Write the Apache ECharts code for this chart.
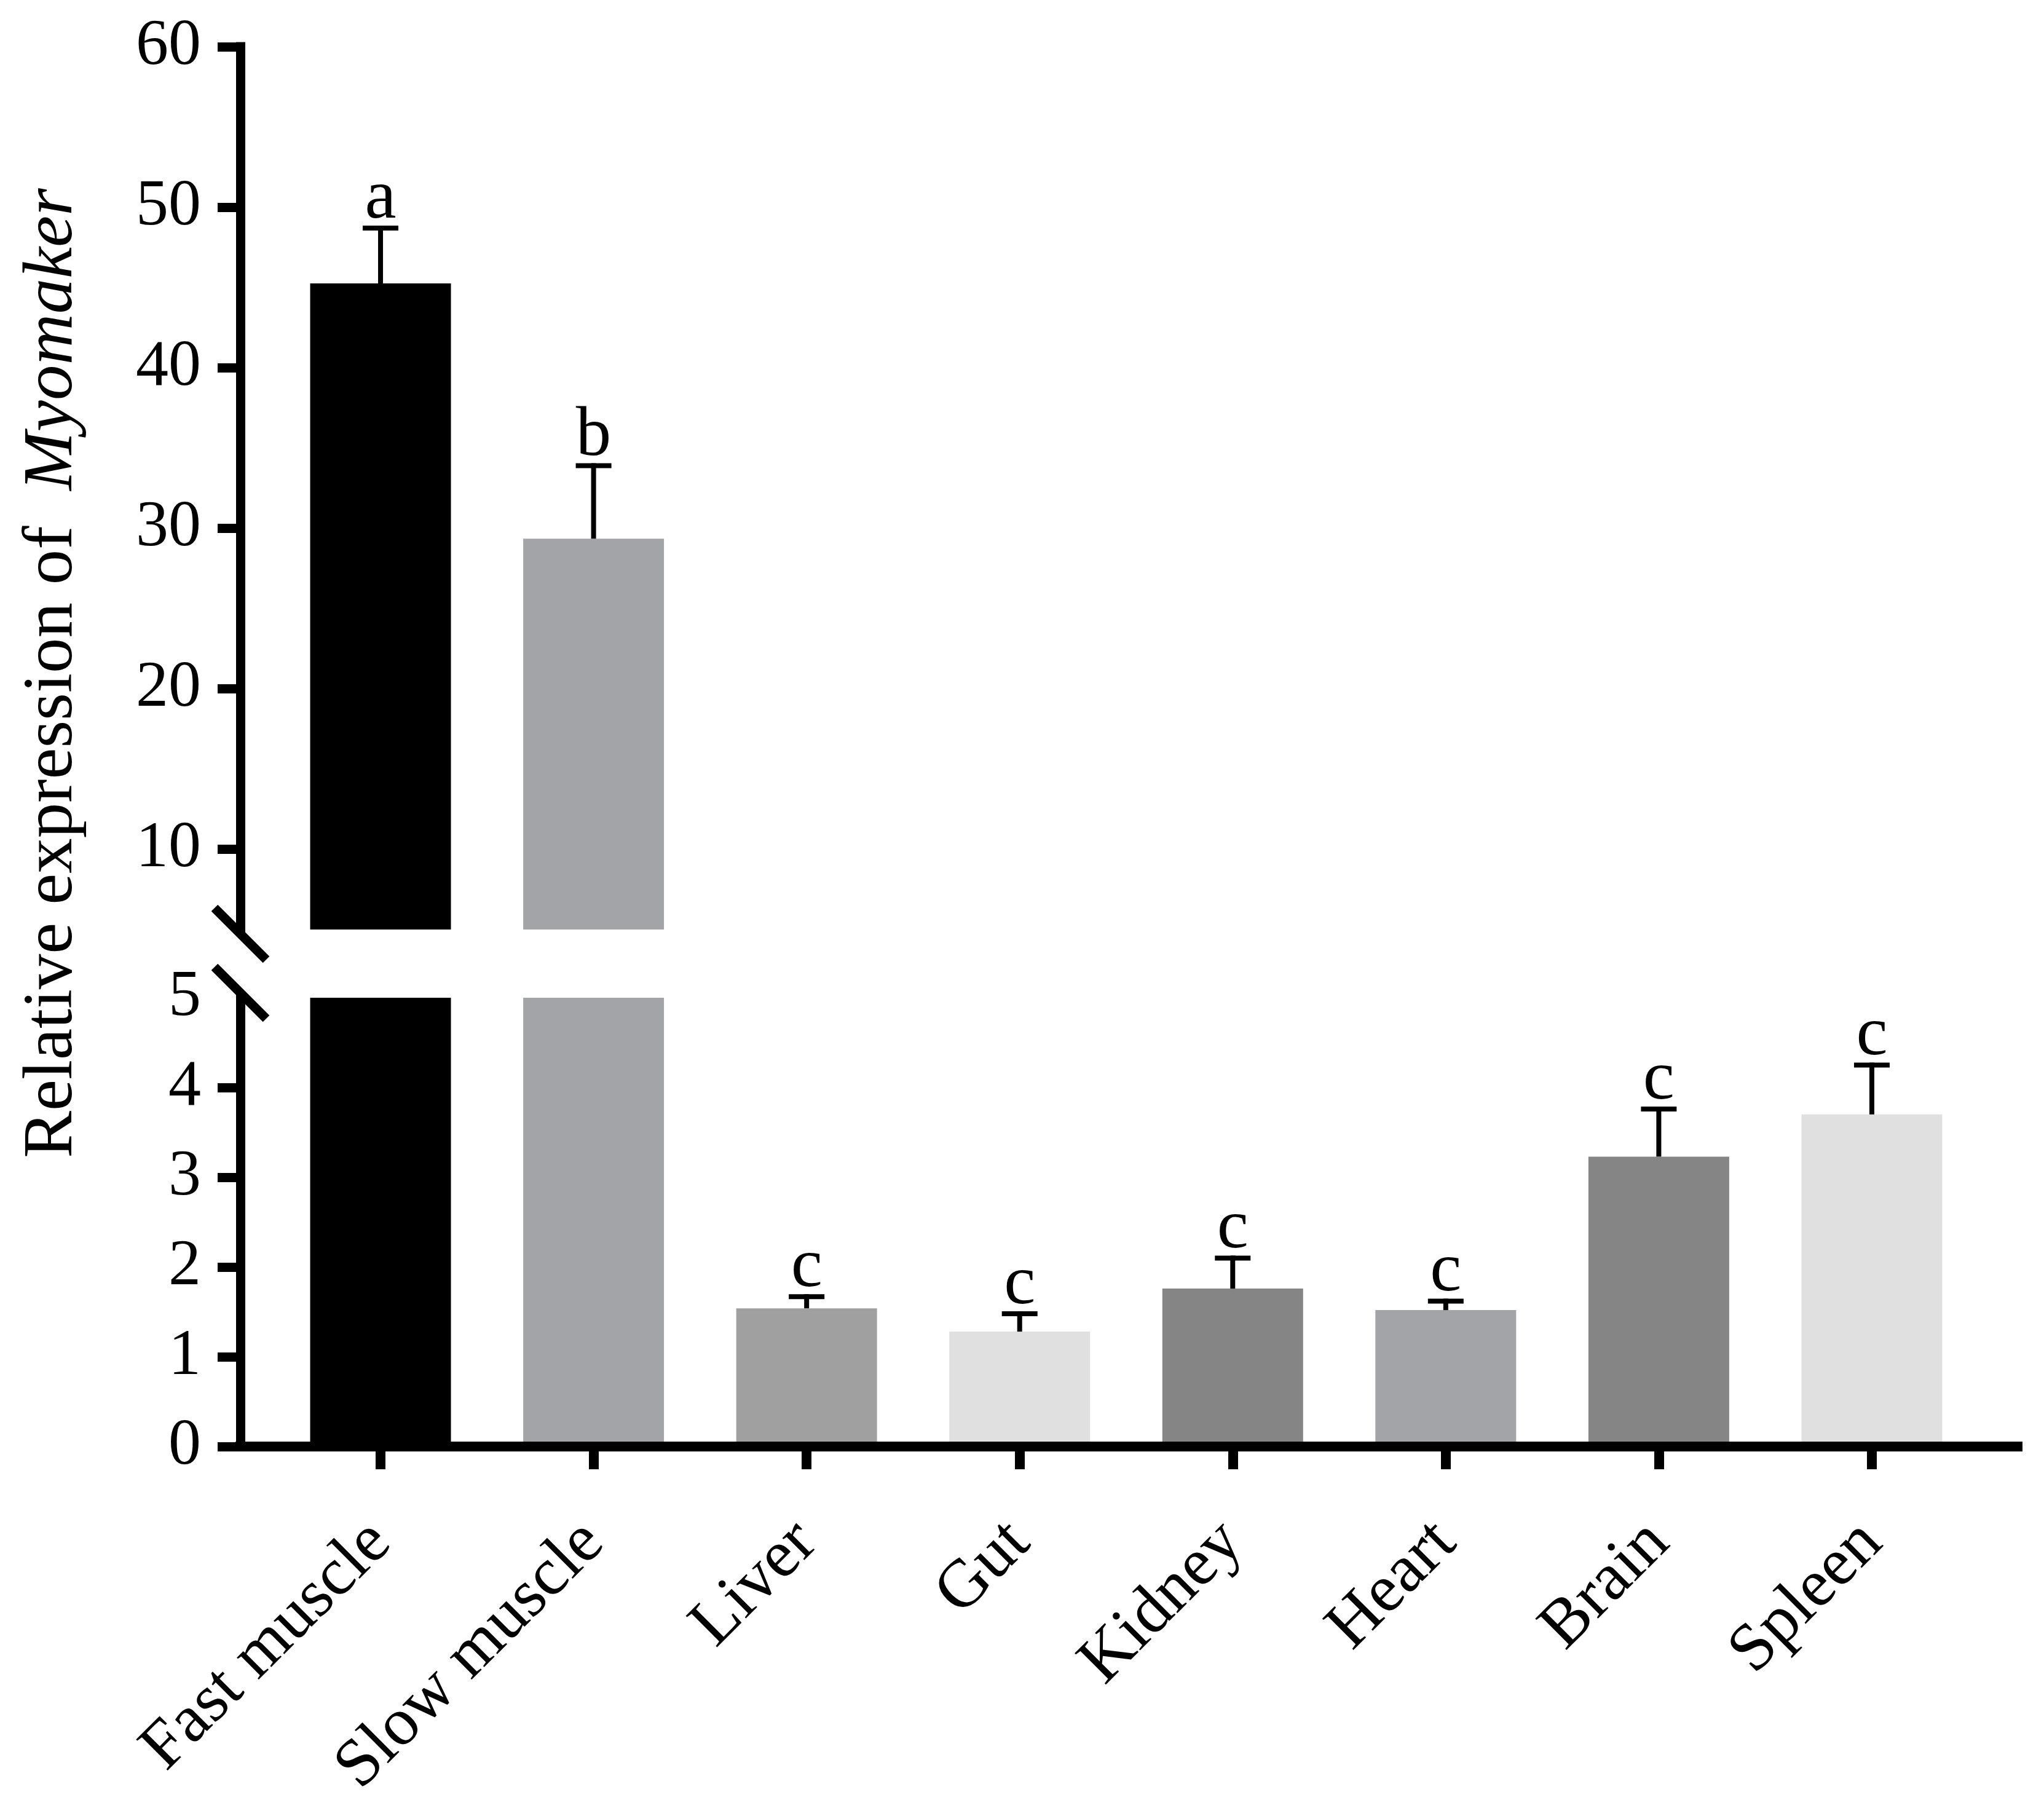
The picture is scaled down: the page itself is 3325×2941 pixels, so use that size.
<!DOCTYPE html>
<html><head><meta charset="utf-8">
<script src="https://cdn.jsdelivr.net/npm/echarts@6/dist/echarts.min.js"></script>
<style>html,body{margin:0;padding:0;background:#fff}#c{width:3325px;height:2941px}</style>
</head><body><div id="c"></div><script>
// ---- data ----
const categories = ['Fast muscle','Slow muscle','Liver','Gut','Kidney','Heart','Brain','Spleen'];
const meanValues = [45.25, 29.35, 1.54, 1.28, 1.76, 1.52, 3.23, 3.70];
const errorValues = [3.45, 4.55, 0.13, 0.20, 0.34, 0.10, 0.53, 0.55];
const sigLetters = ['a','b','c','c','c','c','c','c'];
const barColors = ['#000000','#a3a4a8','#a0a0a0','#e0e0e0','#858585','#a3a4a8','#858585','#e0e0e0'];
const upperTicks = [10,20,30,40,50,60];
const lowerTickLabels = [0,1,2,3,4,5];
const lowerTickMarks = [0,1,2,3,4];
const breakValue = 5;
const upperMax = 60;
const yTitleText = 'Relative expression of  ';
const yTitleGene = 'Myomaker';

// ---- layout / style ----
const FONT = '"Liberation Serif", "Times New Roman", serif';
const AX_W = 15;
const xIdx = categories.map((_, i) => i);
const xMin = -0.658, xMax = 7.684;
const G = {left: 391, width: 2891};

const chart = echarts.init(document.getElementById('c'), null, {renderer: 'canvas'});

const barData = categories.map((c, i) => ({value: [i, meanValues[i]], itemStyle: {color: barColors[i]}}));
const errData = categories.map((c, i) => [i, meanValues[i], errorValues[i]]);

function errRenderer(lo, hi) {
  return function (params, api) {
    const x = api.value(0), m = api.value(1), e = api.value(2);
    const t = m + e;
    if (t < lo || t > hi) return null;
    const base = api.coord([x, Math.max(m, lo)]);
    const top = api.coord([x, t]);
    return {
      type: 'group',
      children: [
        {type: 'line', shape: {x1: base[0], y1: base[1], x2: top[0], y2: top[1] - 4},
         style: {stroke: '#000', lineWidth: 8}},
        {type: 'line', shape: {x1: top[0] - 29, y1: top[1], x2: top[0] + 29, y2: top[1]},
         style: {stroke: '#000', lineWidth: 8}},
        {type: 'text', style: {text: sigLetters[x], x: top[0], y: top[1] + 10,
          align: 'center', verticalAlign: 'bottom', fill: '#000',
          font: '115px ' + FONT}}
      ]
    };
  };
}

const yAxisCommon = {
  type: 'value',
  splitLine: {show: false},
  axisLine: {show: true, onZero: false, lineStyle: {color: '#000', width: AX_W, cap: 'square'}},
  axisTick: {show: true, inside: false, length: 37, lineStyle: {color: '#000', width: AX_W}},
  axisLabel: {color: '#000', fontFamily: FONT, fontSize: 106, margin: 64},
  z: 10
};

const option = {
  backgroundColor: '#fff',
  animation: false,
  grid: [
    {left: G.left, width: G.width, top: 76, height: 1436, containLabel: false},
    {left: G.left, width: G.width, top: 1623, height: 730, containLabel: false}
  ],
  xAxis: [
    {type: 'value', gridIndex: 0, min: xMin, max: xMax, show: false},
    {type: 'value', gridIndex: 1, min: xMin, max: xMax, z: 10,
     splitLine: {show: false},
     axisLine: {show: true, onZero: false, lineStyle: {color: '#000', width: 16, cap: 'square'}},
     axisTick: {show: true, length: 37, customValues: xIdx, lineStyle: {color: '#000', width: 16}},
     axisLabel: {customValues: xIdx, rotate: 45, margin: 140, color: '#000', fontFamily: FONT, fontSize: 110,
       formatter: v => categories[Math.round(v)]}}
  ],
  yAxis: [
    Object.assign({}, yAxisCommon, {gridIndex: 0, min: breakValue, max: upperMax,
      axisTick: Object.assign({}, yAxisCommon.axisTick, {customValues: upperTicks}),
      axisLabel: Object.assign({}, yAxisCommon.axisLabel, {customValues: upperTicks})}),
    Object.assign({}, yAxisCommon, {gridIndex: 1, min: 0, max: breakValue,
      axisTick: Object.assign({}, yAxisCommon.axisTick, {customValues: lowerTickMarks}),
      axisLabel: Object.assign({}, yAxisCommon.axisLabel, {customValues: lowerTickLabels})})
  ],
  series: [
    {type: 'bar', xAxisIndex: 0, yAxisIndex: 0, barWidth: 229, clip: true, data: barData},
    {type: 'bar', xAxisIndex: 1, yAxisIndex: 1, barWidth: 229, clip: true, data: barData},
    {type: 'custom', xAxisIndex: 0, yAxisIndex: 0, encode: {x: 0, y: 1}, clip: false, z: 5,
     renderItem: errRenderer(breakValue, upperMax), data: errData},
    {type: 'custom', xAxisIndex: 1, yAxisIndex: 1, encode: {x: 0, y: 1}, clip: false, z: 5,
     renderItem: errRenderer(0, breakValue), data: errData}
  ]
};
chart.setOption(option);

// axis-break marks and y-axis title, positioned from the axes
const ax = chart.convertToPixel({xAxisIndex: 1}, xMin);
const upB = chart.convertToPixel({yAxisIndex: 0}, breakValue) + 7;
const loB = chart.convertToPixel({yAxisIndex: 1}, breakValue) - 8;
const h = 42;
chart.setOption({
  graphic: [
    {type: 'line', z: 20, shape: {x1: ax - h, y1: upB - h, x2: ax + h, y2: upB + h},
     style: {stroke: '#000', lineWidth: 15}},
    {type: 'line', z: 20, shape: {x1: ax - h, y1: loB - h, x2: ax + h, y2: loB + h},
     style: {stroke: '#000', lineWidth: 15}},
    {type: 'rect', z: 19, shape: {x: ax - 10, y: upB + 8, width: 20, height: loB - upB - 16},
     style: {fill: '#fff'}},
    {type: 'text', z: 20, x: 86, y: 1095, rotation: Math.PI / 2,
     style: {text: '{n|' + yTitleText + '}{i|' + yTitleGene + '}', align: 'center', verticalAlign: 'middle',
       rich: {n: {fontFamily: FONT, fontSize: 115, fill: '#000'},
              i: {fontFamily: FONT, fontSize: 115, fontStyle: 'italic', fill: '#000'}}}}
  ]
});
</script></body></html>
